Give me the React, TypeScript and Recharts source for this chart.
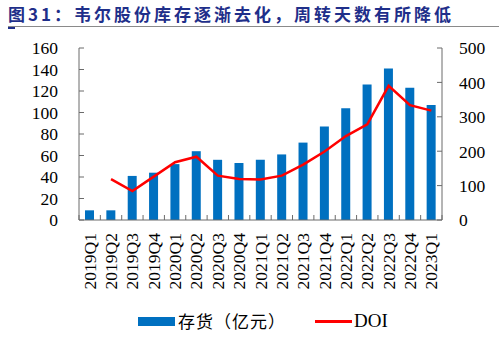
import { ComposedChart, Bar, Line, XAxis, YAxis } from 'recharts';

const quarters = [
  '2019Q1', '2019Q2', '2019Q3', '2019Q4',
  '2020Q1', '2020Q2', '2020Q3', '2020Q4',
  '2021Q1', '2021Q2', '2021Q3', '2021Q4',
  '2022Q1', '2022Q2', '2022Q3', '2022Q4',
  '2023Q1',
];
const inventory = [9, 9, 41, 44, 52, 64, 56, 53, 56, 61, 72, 87, 104, 126, 141, 123, 107];
const doi = [null, 119, 84, 126, 168, 184, 129, 119, 118, 129, 161, 199, 244, 278, 390, 334, 318];
const leftTicks = [0, 20, 40, 60, 80, 100, 120, 140, 160];
const rightTicks = [0, 100, 200, 300, 400, 500];

const data = quarters.map((q, i) => ({ q, inv: inventory[i], doi: doi[i] }));

const W = 499;
const H = 351;
const plotLeft = 79;
const plotRight = 442;
const plotTop = 48;
const plotBottom = 220;
const step = (plotRight - plotLeft) / quarters.length;
const axisColor = '#6b6b6b';
const tickFont = '"Liberation Serif", "Times New Roman", serif';

const LeftTick = (props: any) => {
  const { x, y, payload } = props;
  return (
    <g>
      <line x1={plotLeft} x2={plotLeft + 5} y1={y} y2={y} stroke={axisColor} />
      <text x={x} y={y} dy="0.36em" textAnchor="end" fontSize={17.5} fontFamily={tickFont} fill="#000">
        {payload.value}
      </text>
    </g>
  );
};

const RightTick = (props: any) => {
  const { x, y, payload } = props;
  return (
    <g>
      <line x1={plotRight} x2={plotRight - 5} y1={y} y2={y} stroke={axisColor} />
      <text x={x} y={y} dy="0.36em" textAnchor="start" fontSize={17.5} fontFamily={tickFont} fill="#000">
        {payload.value}
      </text>
    </g>
  );
};

const BottomTick = (props: any) => {
  const { x, y, payload, index } = props;
  const last = index === quarters.length - 1;
  return (
    <g>
      <line x1={x - step / 2} x2={x - step / 2} y1={plotBottom} y2={plotBottom - 5} stroke={axisColor} />
      {last && <line x1={x + step / 2} x2={x + step / 2} y1={plotBottom} y2={plotBottom - 5} stroke={axisColor} />}
      <text
        x={0}
        y={0}
        transform={`translate(${x + 6},${y + 13}) rotate(-90)`}
        textAnchor="end"
        fontSize={17.5}
        fontFamily={tickFont}
        fill="#000"
      >
        {payload.value}
      </text>
    </g>
  );
};

export default function App() {
  return (
    <div style={{ position: 'absolute', left: 0, top: 0, width: W, height: H, background: '#fff', overflow: 'hidden' }}>
      <div
        style={{
          position: 'absolute',
          left: 8,
          top: 3,
          fontFamily: '"Noto Sans CJK SC", sans-serif',
          fontWeight: 700,
          fontSize: 17,
          letterSpacing: 3,
          color: '#1f2f8a',
          whiteSpace: 'nowrap',
          lineHeight: '22px',
        }}
      >
        图31：韦尔股份库存逐渐去化，周转天数有所降低
      </div>
      <div style={{ position: 'absolute', left: 8, top: 26, width: 491, height: 1, background: '#8a8a8a' }} />
      <div style={{ position: 'absolute', left: 8, top: 27, width: 7, height: 2, background: '#1f2f8a' }} />

      <ComposedChart
        width={W}
        height={H}
        data={data}
        margin={{ top: plotTop, left: plotLeft - 60, right: W - plotRight - 50, bottom: H - plotBottom - 80 }}
      >
        <XAxis
          dataKey="q"
          interval={0}
          height={80}
          tickSize={0}
          tickMargin={0}
          tick={<BottomTick />}
          axisLine={{ stroke: axisColor }}
        />
        <YAxis
          yAxisId="left"
          orientation="left"
          width={60}
          domain={[0, 160]}
          ticks={leftTicks}
          interval={0}
          tickSize={0}
          tickMargin={21}
          tick={<LeftTick />}
          axisLine={{ stroke: axisColor }}
        />
        <YAxis
          yAxisId="right"
          orientation="right"
          width={50}
          domain={[0, 500]}
          ticks={rightTicks}
          interval={0}
          tickSize={0}
          tickMargin={17}
          tick={<RightTick />}
          axisLine={{ stroke: axisColor }}
        />
        <Bar yAxisId="left" dataKey="inv" fill="#0070c0" barSize={9} isAnimationActive={false} />
        <Line
          yAxisId="right"
          dataKey="doi"
          stroke="#ff0000"
          strokeWidth={2.5}
          dot={false}
          type="linear"
          isAnimationActive={false}
        />
      </ComposedChart>

      <div style={{ position: 'absolute', left: 138, top: 317, width: 37, height: 9, background: '#0070c0' }} />
      <div
        style={{
          position: 'absolute',
          left: 178,
          top: 309,
          fontFamily: '"Noto Sans CJK SC", sans-serif',
          fontSize: 17,
          letterSpacing: 1,
          lineHeight: '24px',
          color: '#000',
          whiteSpace: 'nowrap',
        }}
      >
        存货（亿元）
      </div>
      <div style={{ position: 'absolute', left: 315, top: 320, width: 37, height: 2.5, background: '#ff0000' }} />
      <div
        style={{
          position: 'absolute',
          left: 354,
          top: 309,
          fontFamily: tickFont,
          fontSize: 19,
          lineHeight: '24px',
          color: '#000',
          whiteSpace: 'nowrap',
        }}
      >
        DOI
      </div>
    </div>
  );
}
